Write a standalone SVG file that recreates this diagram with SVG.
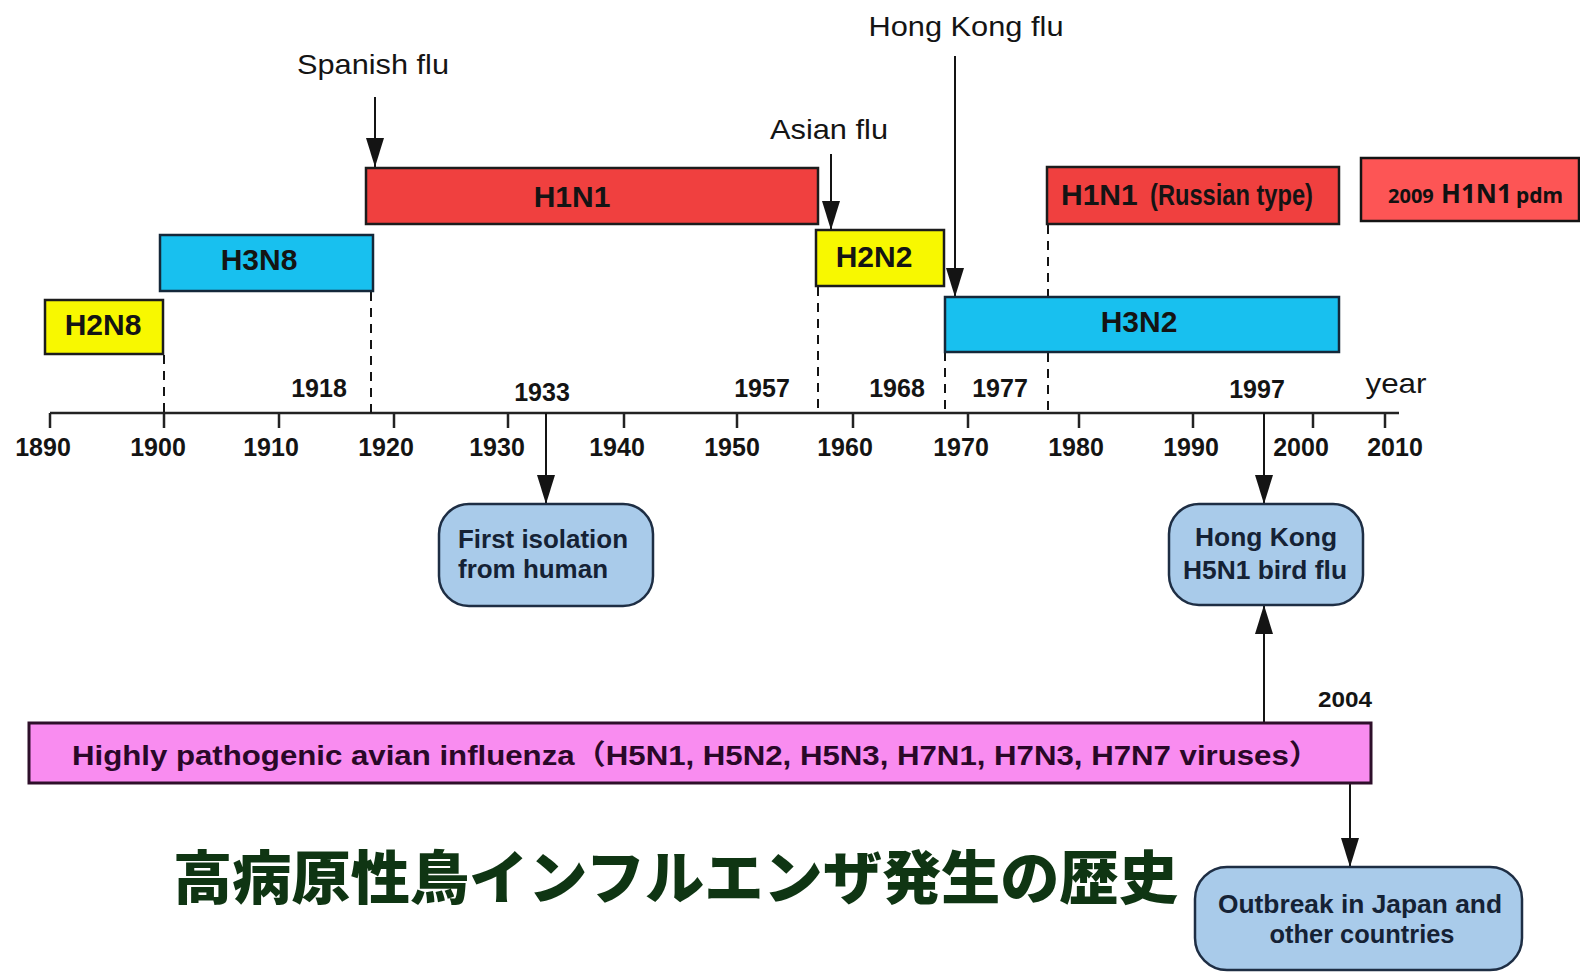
<svg xmlns="http://www.w3.org/2000/svg" width="1580" height="973" viewBox="0 0 1580 973">
<style>
.bar{stroke:#1c1c1c;stroke-width:2.5}
.red{fill:#f0403f}
.cyan{fill:#18c0ef;stroke:#14283a}
.yel{fill:#f8f800}
.lbl{font-family:"Liberation Sans",Arial,sans-serif;font-weight:bold;font-size:30px;fill:#141414;text-anchor:middle}
.yr{font-family:"Liberation Sans",Arial,sans-serif;font-weight:bold;font-size:25px;fill:#141414;text-anchor:middle}
.ev{font-family:"Liberation Sans",Arial,sans-serif;font-size:28px;fill:#141414;text-anchor:middle}
.rb{fill:#a9cbea;stroke:#1e2e44;stroke-width:2.5}
.rt{font-family:"Liberation Sans",Arial,sans-serif;font-weight:bold;font-size:25px;fill:#152235;text-anchor:middle}
.st{text-anchor:start}
.pdm{font-family:"Noto Sans","Open Sans",sans-serif;font-weight:bold;fill:#111}
.dash{stroke:#141414;stroke-width:2;stroke-dasharray:9 7;fill:none}
.arr{stroke:#141414;stroke-width:2;fill:none;marker-end:url(#ah)}
.axis{stroke:#222;stroke-width:2.5;fill:none}
</style>
<defs>
<marker id="ah" markerUnits="userSpaceOnUse" markerWidth="30" markerHeight="20" viewBox="0 0 30 20" refX="29" refY="10" orient="auto">
<path d="M0,1 L29,10 L0,19 z" fill="#141414"/>
</marker>
</defs>
<rect width="1580" height="973" fill="#ffffff"/>

<g id="axis">
<line class="axis" x1="50" y1="413" x2="1399" y2="413"/>
<path class="axis" d="M50,413v15M164,413v15M279,413v15M394,413v15M508,413v15M624,413v15M737,413v15M853,413v15M968,413v15M1079,413v15M1193,413v15M1313,413v15M1385,413v15"/>
<g class="yr">
<text x="43" y="456">1890</text>
<text x="158" y="456">1900</text>
<text x="271" y="456">1910</text>
<text x="386" y="456">1920</text>
<text x="497" y="456">1930</text>
<text x="617" y="456">1940</text>
<text x="732" y="456">1950</text>
<text x="845" y="456">1960</text>
<text x="961" y="456">1970</text>
<text x="1076" y="456">1980</text>
<text x="1191" y="456">1990</text>
<text x="1301" y="456">2000</text>
<text x="1395" y="456">2010</text>
<text x="319" y="397">1918</text>
<text x="542" y="401">1933</text>
<text x="762" y="397">1957</text>
<text x="897" y="397">1968</text>
<text x="1000" y="397">1977</text>
<text x="1257" y="398">1997</text>
<text x="1345" y="707" font-size="22" textLength="54" lengthAdjust="spacingAndGlyphs">2004</text>
</g>
<text x="1396" y="393" class="ev" textLength="61" lengthAdjust="spacingAndGlyphs">year</text>
</g>

<g id="connectors">
<line class="dash" x1="164" y1="355" x2="164" y2="413"/>
<line class="dash" x1="371" y1="292" x2="371" y2="413"/>
<line class="dash" x1="818" y1="287" x2="818" y2="413"/>
<line class="dash" x1="945" y1="352" x2="945" y2="413"/>
<line class="dash" x1="1048" y1="225" x2="1048" y2="296"/>
<line class="dash" x1="1048" y1="353" x2="1048" y2="413"/>
<line class="arr" x1="375" y1="97" x2="375" y2="167"/>
<line class="arr" x1="831" y1="154" x2="831" y2="230"/>
<line class="arr" x1="955" y1="56" x2="955" y2="297"/>
<line class="arr" x1="546" y1="413" x2="546" y2="504"/>
<line class="arr" x1="1264" y1="413" x2="1264" y2="504"/>
<line class="arr" x1="1264" y1="722" x2="1264" y2="605"/>
<line class="arr" x1="1350" y1="784" x2="1350" y2="867"/>
</g>

<g id="events">
<text class="ev" x="373" y="74" textLength="152" lengthAdjust="spacingAndGlyphs">Spanish flu</text>
<text class="ev" x="966" y="36" textLength="195" lengthAdjust="spacingAndGlyphs">Hong Kong flu</text>
<text class="ev" x="829" y="139" textLength="118" lengthAdjust="spacingAndGlyphs">Asian flu</text>
</g>

<g id="h2n8">
<rect class="bar yel" x="45" y="300" width="118" height="54"/>
<text class="lbl" x="103" y="335">H2N8</text>
</g>
<g id="h3n8">
<rect class="bar cyan" x="160" y="235" width="213" height="56"/>
<text class="lbl" x="259" y="270" fill="#10243a">H3N8</text>
</g>
<g id="h1n1">
<rect class="bar red" x="366" y="168" width="452" height="56"/>
<text class="lbl" x="572" y="207">H1N1</text>
</g>
<g id="h2n2">
<rect class="bar yel" x="816" y="230" width="128" height="56"/>
<text class="lbl" x="874" y="267">H2N2</text>
</g>
<g id="h3n2">
<rect class="bar cyan" x="945" y="297" width="394" height="55"/>
<text class="lbl" x="1139" y="332">H3N2</text>
</g>
<g id="h1n1-russian">
<rect class="bar red" x="1047" y="167" width="292" height="57"/>
<text class="lbl st" x="1061" y="205">H1N1</text>
<text class="lbl st" x="1150" y="205" font-size="22" textLength="163" lengthAdjust="spacingAndGlyphs">(Russian type)</text>
</g>
<g id="h1n1pdm">
<rect x="1361" y="158" width="218" height="63" fill="#fd5555" stroke="#141414" stroke-width="2.5"/>
<text class="pdm" x="1388" y="203" font-size="20">2009</text>
<text class="pdm" x="1441" y="203" font-size="26">H1N1</text>
<text class="pdm" x="1516" y="203" font-size="21">pdm</text>
</g>

<g id="first-isolation">
<rect class="rb" x="439" y="504" width="214" height="102" rx="30" ry="30"/>
<text class="rt st" x="458" y="548" textLength="170" lengthAdjust="spacingAndGlyphs">First isolation</text>
<text class="rt st" x="458" y="578" textLength="150" lengthAdjust="spacingAndGlyphs">from human</text>
</g>
<g id="hk-h5n1">
<rect class="rb" x="1169" y="504" width="194" height="101" rx="30" ry="30"/>
<text class="rt" x="1266" y="546" textLength="142" lengthAdjust="spacingAndGlyphs">Hong Kong</text>
<text class="rt" x="1265" y="579" textLength="164" lengthAdjust="spacingAndGlyphs">H5N1 bird flu</text>
</g>
<g id="hpai">
<rect x="29" y="723" width="1342" height="60" fill="#f98cf0" stroke="#2e0f2a" stroke-width="3"/>
<text x="72" y="765" font-family="'Liberation Sans','Noto Sans CJK JP',sans-serif" font-weight="bold" font-size="28" fill="#2a0828" textLength="1248" lengthAdjust="spacingAndGlyphs">Highly pathogenic avian influenza（H5N1, H5N2, H5N3,  H7N1, H7N3, H7N7 viruses）</text>
</g>
<g id="outbreak">
<rect class="rb" x="1195" y="867" width="327" height="103" rx="32" ry="32"/>
<text class="rt" x="1360" y="913" textLength="284" lengthAdjust="spacingAndGlyphs">Outbreak in Japan and</text>
<text class="rt" x="1362" y="943" textLength="185" lengthAdjust="spacingAndGlyphs">other countries</text>
</g>
<g id="title">
<text x="173" y="899" font-family="'Noto Sans CJK JP',sans-serif" font-weight="900" font-size="58" fill="#0f3513" textLength="1005" lengthAdjust="spacingAndGlyphs">高病原性鳥インフルエンザ発生の歴史</text>
</g>
</svg>
